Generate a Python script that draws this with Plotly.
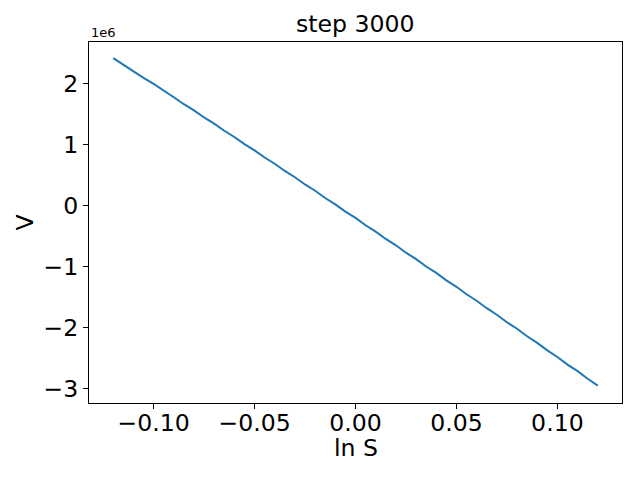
import plotly.graph_objects as go

ln_s = [-0.120, -0.115, -0.110, -0.105, -0.100, -0.095, -0.090, -0.085,
        -0.080, -0.075, -0.070, -0.065, -0.060, -0.055, -0.050, -0.045,
        -0.040, -0.035, -0.030, -0.025, -0.020, -0.015, -0.010, -0.005,
        0.000, 0.005, 0.010, 0.015, 0.020, 0.025, 0.030, 0.035,
        0.040, 0.045, 0.050, 0.055, 0.060, 0.065, 0.070, 0.075,
        0.080, 0.085, 0.090, 0.095, 0.100, 0.105, 0.110, 0.115, 0.120]

v = [2.414e6, 2.302e6, 2.203e6, 2.088e6, 1.989e6, 1.873e6, 1.772e6, 1.657e6,
     1.556e6, 1.440e6, 1.339e6, 1.222e6, 1.120e6, 1.003e6, 0.901e6, 0.783e6,
     0.681e6, 0.563e6, 0.460e6, 0.342e6, 0.239e6, 0.120e6, 0.016e6, -0.103e6,
     -0.207e6, -0.327e6, -0.431e6, -0.552e6, -0.656e6, -0.777e6, -0.882e6, -1.003e6,
     -1.109e6, -1.230e6, -1.336e6, -1.458e6, -1.565e6, -1.687e6, -1.794e6, -1.917e6,
     -2.024e6, -2.147e6, -2.255e6, -2.379e6, -2.487e6, -2.611e6, -2.719e6, -2.843e6, -2.956e6]

x_ticks = [-0.10, -0.05, 0.00, 0.05, 0.10]
x_tick_text = ["\u22120.10", "\u22120.05", "0.00", "0.05", "0.10"]
y_ticks = [-3e6, -2e6, -1e6, 0, 1e6, 2e6]
y_tick_text = ["\u22123", "\u22122", "\u22121", "0", "1", "2"]

font = "DejaVu Sans"
fs = 23.6

fig = go.Figure()
fig.add_trace(go.Scatter(x=ln_s, y=v, mode="lines",
                         line=dict(color="#1f77b4", width=2), showlegend=False))

axis_common = dict(showline=True, linecolor="black", linewidth=1.1, mirror=True,
                   showgrid=False, zeroline=False, ticks="outside", ticklen=5,
                   tickwidth=1.1, tickcolor="black",
                   tickfont=dict(family=font, size=fs, color="black"))

fig.update_xaxes(range=[-0.132, 0.132], tickvals=x_ticks, ticktext=x_tick_text,
                 ticklabelstandoff=-6, **axis_common)
fig.update_yaxes(range=[-3.241e6, 2.677e6], tickvals=y_ticks, ticktext=y_tick_text,
                 **axis_common)

# page body has an 8px margin, so the figure is offset by 8px
fig.update_layout(
    width=632, height=472,
    margin=dict(l=81, r=18, t=34, b=77),
    paper_bgcolor="white", plot_bgcolor="white",
    font=dict(family=font, color="black"),
    annotations=[
        dict(text="step 3000", xref="paper", yref="paper", x=0.5, y=1,
             xanchor="center", yanchor="bottom", yshift=2, showarrow=False,
             font=dict(family=font, size=fs, color="black")),
        dict(text="1e6", xref="paper", yref="paper", x=0, y=1,
             xanchor="left", yanchor="bottom", yshift=0, showarrow=False,
             font=dict(family=font, size=13, color="black")),
        dict(text="ln S", xref="paper", yref="paper", x=0.5, y=0,
             xanchor="center", yanchor="top", yshift=-29, showarrow=False,
             font=dict(family=font, size=fs, color="black")),
        dict(text="V", xref="paper", yref="paper", x=0, y=0.5,
             xanchor="right", yanchor="middle", xshift=-49, textangle=-90,
             showarrow=False, font=dict(family=font, size=fs, color="black")),
    ],
)

fig.write_html("out.html")
